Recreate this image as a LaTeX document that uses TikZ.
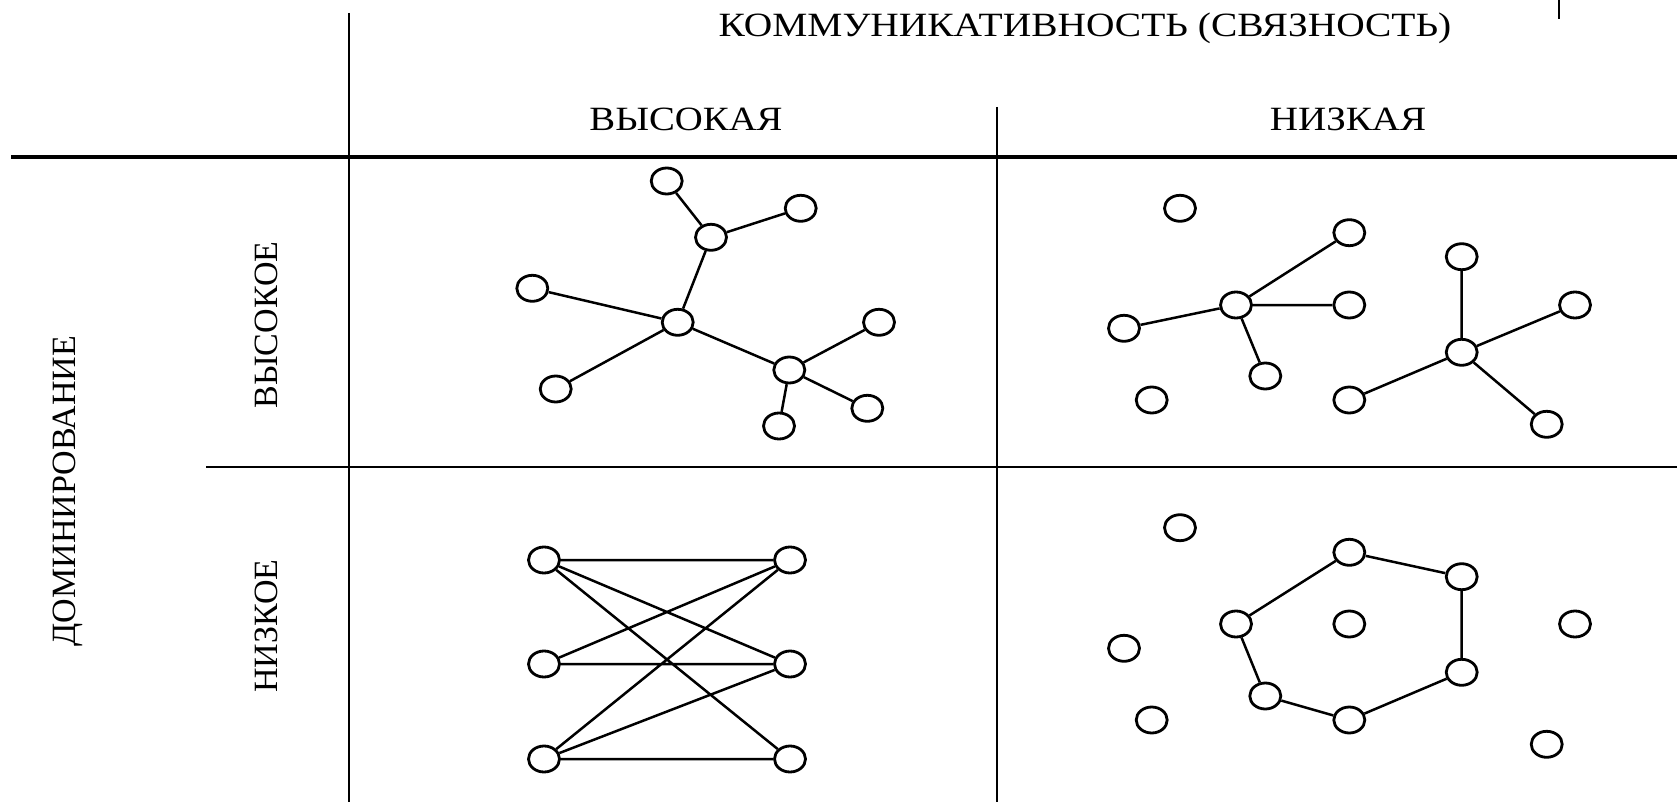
\documentclass[tikz,border=0pt]{standalone}
\usepackage{fontspec}
\setmainfont{Liberation Serif}
\usetikzlibrary{shapes.geometric}
\begin{document}
\begin{tikzpicture}[x=1pt,y=-1pt,
  grid/.style={line width=2.6pt},
  vert/.style={ellipse,draw,line width=2.8pt,minimum width=31pt,minimum height=26pt,inner sep=0pt},
  edge/.style={line width=2.5pt},
  lbl/.style={font=\fontsize{34}{40}\selectfont,inner sep=0pt}]
\useasboundingbox (0,0) rectangle (1677,802);
% grid
\coordinate (v1t) at (349,13); \coordinate (v1b) at (349,802);
\coordinate (h1l) at (11,157); \coordinate (h1r) at (1677,157);
\coordinate (v2t) at (997,107); \coordinate (v2b) at (997,802);
\coordinate (h2l) at (206,467); \coordinate (h2r) at (1677,467);
\coordinate (tkt) at (1559,0); \coordinate (tkb) at (1559,19);
\draw[grid] (v1t) -- (v1b);
\draw[grid,line width=3.2pt] (h1l) -- (h1r);
\draw[grid] (v2t) -- (v2b);
\draw[grid] (h2l) -- (h2r);
\draw[line width=1.8pt] (tkt) -- (tkb);
% labels
\node[lbl,anchor=base] (title) at (1085,37) {\scalebox{1.16}[1]{КОММУНИКАТИВНОСТЬ (СВЯЗНОСТЬ)}};
\node[lbl,anchor=base] (hi) at (686,131) {\scalebox{1.14}[1]{ВЫСОКАЯ}};
\node[lbl,anchor=base] (lo) at (1348,131) {\scalebox{1.15}[1]{НИЗКАЯ}};
\node[lbl,rotate=90] (dom) at (68,491) {ДОМИНИРОВАНИЕ};
\node[lbl,rotate=90] (dhi) at (266,325) {ВЫСОКОЕ};
\node[lbl,rotate=90] (dlo) at (266,626) {НИЗКОЕ};
% top-left
\node[vert] (a1) at (666.7,181) {};
\node[vert] (a2) at (800.7,208.3) {};
\node[vert] (a3) at (711,237.3) {};
\node[vert] (a4) at (532.3,288.3) {};
\node[vert] (a5) at (677.7,322.3) {};
\node[vert] (a6) at (555.7,389) {};
\node[vert] (a7) at (879,322.3) {};
\node[vert] (a8) at (789.3,370) {};
\node[vert] (a9) at (867.3,408.3) {};
\node[vert] (a10) at (779,426) {};
\draw[edge] (a1)--(a3) (a3)--(a2) (a3)--(a5) (a4)--(a5) (a5)--(a6)
  (a5)--(a8) (a8)--(a7) (a8)--(a9) (a8)--(a10);
% top-right
\node[vert] (b1) at (1180,208.3) {};
\node[vert] (b2) at (1349.3,232.7) {};
\node[vert] (b3) at (1461.7,256.7) {};
\node[vert] (b4) at (1236,305) {};
\node[vert] (b5) at (1349.3,305) {};
\node[vert] (b6) at (1124,328.3) {};
\node[vert] (b7) at (1575,305) {};
\node[vert] (b8) at (1461.7,352.3) {};
\node[vert] (b9) at (1265.3,376) {};
\node[vert] (b10) at (1151.7,400) {};
\node[vert] (b11) at (1349.3,400) {};
\node[vert] (b12) at (1546.7,424.3) {};
\draw[edge] (b4)--(b2) (b4)--(b5) (b4)--(b6) (b4)--(b9)
  (b8)--(b3) (b8)--(b7) (b8)--(b11) (b8)--(b12);
% bottom-left
\node[vert] (l1) at (544,560) {};
\node[vert] (l2) at (544,664) {};
\node[vert] (l3) at (544,759) {};
\node[vert] (r1) at (790,560) {};
\node[vert] (r2) at (790,664) {};
\node[vert] (r3) at (790,759) {};
\draw[edge] (l1)--(r1) (l1)--(r2) (l1)--(r3) (l2)--(r1) (l2)--(r2)
  (l3)--(r1) (l3)--(r2) (l3)--(r3);
% bottom-right
\node[vert] (c1) at (1180,527.7) {};
\node[vert] (c2) at (1349.3,552.3) {};
\node[vert] (c3) at (1461.7,576.7) {};
\node[vert] (c4) at (1236,624) {};
\node[vert] (c5) at (1349.3,624) {};
\node[vert] (c6) at (1575,624) {};
\node[vert] (c7) at (1124,648.3) {};
\node[vert] (c8) at (1461.7,672.3) {};
\node[vert] (c9) at (1265.3,696) {};
\node[vert] (c10) at (1151.7,720) {};
\node[vert] (c11) at (1349.3,720) {};
\node[vert] (c12) at (1546.7,744.3) {};
\draw[edge] (c4)--(c2) (c2)--(c3) (c3)--(c8) (c8)--(c11) (c11)--(c9) (c9)--(c4);
\end{tikzpicture}
\end{document}
